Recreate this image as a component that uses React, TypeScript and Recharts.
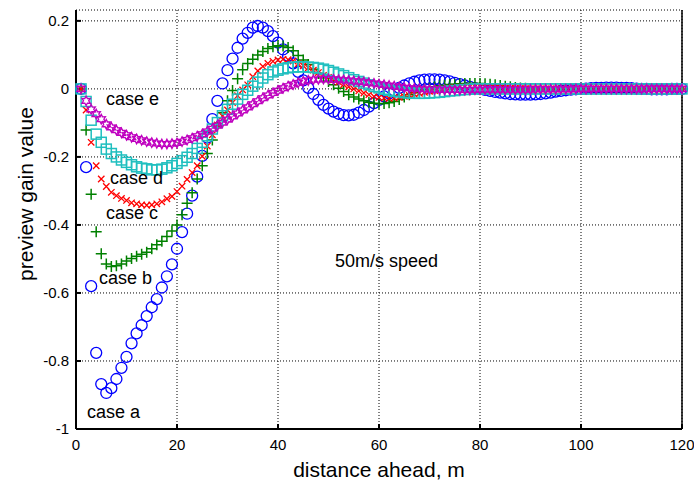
import React from 'react';
import { ScatterChart, Scatter, XAxis, YAxis, CartesianGrid } from 'recharts';

// distance ahead (m), one sample per metre
const distance = [
  1, 2, 3, 4, 5, 6, 7, 8, 9, 10, 11, 12, 13, 14, 15, 16, 17, 18, 19, 20,
  21, 22, 23, 24, 25, 26, 27, 28, 29, 30, 31, 32, 33, 34, 35, 36, 37, 38, 39, 40,
  41, 42, 43, 44, 45, 46, 47, 48, 49, 50, 51, 52, 53, 54, 55, 56, 57, 58, 59, 60,
  61, 62, 63, 64, 65, 66, 67, 68, 69, 70, 71, 72, 73, 74, 75, 76, 77, 78, 79, 80,
  81, 82, 83, 84, 85, 86, 87, 88, 89, 90, 91, 92, 93, 94, 95, 96, 97, 98, 99, 100,
  101, 102, 103, 104, 105, 106, 107, 108, 109, 110, 111, 112, 113, 114, 115, 116, 117, 118, 119, 120,
];

const caseA = [
  0, -0.23, -0.58, -0.776, -0.868, -0.894, -0.88, -0.853, -0.82, -0.788,
  -0.748, -0.719, -0.695, -0.668, -0.642, -0.618, -0.584, -0.551, -0.516, -0.47,
  -0.421, -0.367, -0.314, -0.258, -0.197, -0.143, -0.089, -0.035, 0.016, 0.055,
  0.089, 0.121, 0.148, 0.165, 0.18, 0.185, 0.18, 0.17, 0.155, 0.136,
  0.116, 0.097, 0.075, 0.05, 0.025, 0.003, -0.015, -0.032, -0.047, -0.058,
  -0.067, -0.073, -0.077, -0.078, -0.076, -0.07, -0.062, -0.052, -0.042, -0.032,
  -0.022, -0.013, -0.005, 0.003, 0.01, 0.016, 0.021, 0.025, 0.027, 0.028,
  0.028, 0.027, 0.025, 0.022, 0.018, 0.014, 0.01, 0.006, 0.002, 0,
  -0.003, -0.006, -0.009, -0.011, -0.013, -0.015, -0.016, -0.017, -0.017, -0.017,
  -0.016, -0.015, -0.013, -0.011, -0.008, -0.006, -0.004, -0.002, -0.001, 0,
  0.001, 0.002, 0.003, 0.003, 0.004, 0.004, 0.004, 0.003, 0.003, 0.002,
  0.001, 0, 0, -0.001, -0.001, -0.001, -0.001, 0, 0, 0,
];

const caseB = [
  0, -0.121, -0.31, -0.42, -0.485, -0.515, -0.522, -0.52, -0.515, -0.506,
  -0.499, -0.492, -0.486, -0.48, -0.47, -0.458, -0.448, -0.434, -0.418, -0.4,
  -0.37, -0.336, -0.305, -0.265, -0.226, -0.19, -0.15, -0.11, -0.07, -0.035,
  -0.005, 0.03, 0.056, 0.075, 0.087, 0.1, 0.11, 0.119, 0.124, 0.127,
  0.126, 0.122, 0.112, 0.098, 0.085, 0.072, 0.058, 0.045, 0.033, 0.022,
  0.012, 0.002, -0.008, -0.017, -0.024, -0.03, -0.035, -0.039, -0.042, -0.044,
  -0.043, -0.041, -0.037, -0.031, -0.024, -0.017, -0.011, -0.005, -0.001, 0.003,
  0.006, 0.009, 0.011, 0.013, 0.014, 0.015, 0.016, 0.016, 0.016, 0.016,
  0.015, 0.014, 0.012, 0.01, 0.008, 0.006, 0.004, 0.003, 0.002, 0.001,
  0, -0.001, -0.001, -0.002, -0.002, -0.002, -0.002, -0.001, -0.001, 0,
  0, 0, 0, 0, 0, 0, 0, 0, 0, 0,
  0, 0, 0, 0, 0, 0, 0, 0, 0, 0,
];

const caseC = [
  0, -0.062, -0.157, -0.226, -0.265, -0.287, -0.304, -0.314, -0.322, -0.328,
  -0.335, -0.338, -0.341, -0.342, -0.341, -0.338, -0.332, -0.323, -0.316, -0.302,
  -0.286, -0.266, -0.246, -0.226, -0.198, -0.168, -0.135, -0.106, -0.08, -0.062,
  -0.04, -0.02, -0.003, 0.012, 0.036, 0.053, 0.066, 0.075, 0.081, 0.085,
  0.087, 0.086, 0.082, 0.074, 0.068, 0.062, 0.055, 0.048, 0.04, 0.034,
  0.027, 0.02, 0.013, 0.006, 0, -0.006, -0.012, -0.017, -0.022, -0.025,
  -0.027, -0.028, -0.027, -0.025, -0.022, -0.019, -0.016, -0.013, -0.01, -0.007,
  -0.005, -0.002, 0, 0.002, 0.004, 0.005, 0.006, 0.007, 0.007, 0.007,
  0.006, 0.006, 0.005, 0.004, 0.003, 0.002, 0.002, 0.001, 0.001, 0,
  0, 0, 0, 0, 0, 0, 0, 0, 0, 0,
  0, 0, 0, 0, 0, 0, 0, 0, 0, 0,
  0, 0, 0, 0, 0, 0, 0, 0, 0, 0,
];

const caseD = [
  0, -0.037, -0.092, -0.133, -0.157, -0.177, -0.19, -0.2, -0.209, -0.216,
  -0.223, -0.229, -0.233, -0.235, -0.238, -0.238, -0.236, -0.232, -0.226, -0.219,
  -0.211, -0.201, -0.19, -0.175, -0.157, -0.138, -0.118, -0.099, -0.079, -0.06,
  -0.045, -0.03, -0.016, -0.004, 0.008, 0.02, 0.032, 0.042, 0.05, 0.055,
  0.059, 0.062, 0.064, 0.065, 0.065, 0.064, 0.063, 0.061, 0.058, 0.054,
  0.049, 0.044, 0.039, 0.033, 0.027, 0.022, 0.017, 0.012, 0.007, 0.003,
  -0.001, -0.004, -0.007, -0.009, -0.011, -0.012, -0.013, -0.013, -0.013, -0.012,
  -0.011, -0.01, -0.008, -0.006, -0.005, -0.003, -0.002, -0.001, 0, 0,
  0, 0, 0, 0, 0, 0, 0, 0, 0, 0,
  0, 0, 0, 0, 0, 0, 0, 0, 0, 0,
  0, 0, 0, 0, 0, 0, 0, 0, 0, 0,
  0, 0, 0, 0, 0, 0, 0, 0, 0, 0,
];

const caseE = [
  0, -0.035, -0.06, -0.074, -0.089, -0.104, -0.113, -0.121, -0.129, -0.136,
  -0.142, -0.147, -0.151, -0.155, -0.158, -0.16, -0.162, -0.162, -0.161, -0.159,
  -0.155, -0.15, -0.145, -0.139, -0.133, -0.125, -0.117, -0.108, -0.099, -0.09,
  -0.081, -0.072, -0.063, -0.054, -0.045, -0.036, -0.027, -0.019, -0.012, -0.005,
  0.002, 0.008, 0.013, 0.018, 0.022, 0.025, 0.027, 0.028, 0.029, 0.029,
  0.028, 0.027, 0.026, 0.025, 0.023, 0.022, 0.02, 0.018, 0.016, 0.014,
  0.012, 0.01, 0.008, 0.006, 0.004, 0.002, 0.001, 0, -0.001, -0.002,
  -0.002, -0.002, -0.003, -0.003, -0.003, -0.003, -0.003, -0.003, -0.002, -0.002,
  -0.002, -0.002, -0.002, -0.002, -0.002, -0.002, -0.002, -0.002, -0.002, -0.002,
  -0.001, -0.001, -0.001, -0.001, -0.001, -0.001, -0.001, -0.001, 0, 0,
  0, 0, 0, 0, 0, 0, 0, 0, 0, 0,
  0, 0, 0, 0, 0, 0, 0, 0, 0, 0,
];

const xTicks = [0, 20, 40, 60, 80, 100, 120];
const yTicks = [-1, -0.8, -0.6, -0.4, -0.2, 0, 0.2];

const FONT = '"Liberation Sans", Arial, sans-serif';

const toPoints = (vals: number[]) => vals.map((v, i) => ({ x: distance[i], y: v }));

// matlab style markers
const CircleMark = (p: any) => (
  <circle cx={p.cx} cy={p.cy} r={5.5} fill="none" stroke="#0000ff" strokeWidth={1.3} />
);
const PlusMark = (p: any) => (
  <path
    d={`M${p.cx - 5.5},${p.cy}H${p.cx + 5.5}M${p.cx},${p.cy - 5.5}V${p.cy + 5.5}`}
    stroke="#008000"
    strokeWidth={1.5}
    fill="none"
  />
);
const CrossMark = (p: any) => (
  <path
    d={`M${p.cx - 3.2},${p.cy - 3.2}L${p.cx + 3.2},${p.cy + 3.2}M${p.cx - 3.2},${p.cy + 3.2}L${p.cx + 3.2},${p.cy - 3.2}`}
    stroke="#ff0000"
    strokeWidth={1.3}
    fill="none"
  />
);
const SquareMark = (p: any) => (
  <rect x={p.cx - 5} y={p.cy - 5} width={10} height={10} fill="none" stroke="#1fbfbf" strokeWidth={1.5} />
);
const HexMark = (p: any) => {
  const pts: string[] = [];
  for (let k = 0; k < 12; k++) {
    const r = k % 2 === 0 ? 4.8 : 2.6;
    const a = (Math.PI / 6) * k - Math.PI / 2;
    pts.push(`${p.cx + r * Math.cos(a)},${p.cy + r * Math.sin(a)}`);
  }
  return <polygon points={pts.join(' ')} fill="none" stroke="#bf00bf" strokeWidth={1.3} />;
};

const labelStyle: React.CSSProperties = {
  position: 'absolute',
  fontFamily: FONT,
  fontSize: 18,
  lineHeight: '18px',
  color: '#000',
  whiteSpace: 'nowrap',
};

const App = () => {
  return (
    <div style={{ position: 'absolute', left: 0, top: 0, width: 694, height: 483, background: '#fff' }}>
      <ScatterChart width={694} height={483} margin={{ top: 10, right: 11, bottom: 0, left: 0 }}>
        <CartesianGrid stroke="#000" strokeDasharray="1 2" strokeWidth={1} />
        <XAxis
          type="number"
          dataKey="x"
          domain={[0, 120]}
          ticks={xTicks}
          height={54}
          stroke="#000"
          strokeWidth={2}
          tickSize={-5}
          tickMargin={15}
          tick={{ fill: '#000', fontSize: 15, fontFamily: FONT }}
        />
        <YAxis
          type="number"
          dataKey="y"
          domain={[-1, 0.232]}
          ticks={yTicks}
          allowDataOverflow
          width={76}
          stroke="#000"
          strokeWidth={2}
          tickSize={-5}
          tickMargin={12}
          tick={{ fill: '#000', fontSize: 15, fontFamily: FONT }}
        />
        <YAxis
          yAxisId="r"
          orientation="right"
          type="number"
          domain={[-1, 0.232]}
          ticks={yTicks}
          width={1}
          stroke="#000"
          strokeWidth={1.5}
          tickSize={-5}
          tick={false}
        />
        <Scatter data={toPoints(caseA)} shape={CircleMark} isAnimationActive={false} />
        <Scatter data={toPoints(caseB)} shape={PlusMark} isAnimationActive={false} />
        <Scatter data={toPoints(caseC)} shape={CrossMark} isAnimationActive={false} />
        <Scatter data={toPoints(caseD)} shape={SquareMark} isAnimationActive={false} />
        <Scatter data={toPoints(caseE)} shape={HexMark} isAnimationActive={false} />
      </ScatterChart>

      <div style={{ ...labelStyle, left: 106, top: 90 }}>case e</div>
      <div style={{ ...labelStyle, left: 110, top: 169 }}>case d</div>
      <div style={{ ...labelStyle, left: 106, top: 204 }}>case c</div>
      <div style={{ ...labelStyle, left: 99, top: 269 }}>case b</div>
      <div style={{ ...labelStyle, left: 87, top: 403 }}>case a</div>
      <div style={{ ...labelStyle, left: 335, top: 252 }}>50m/s speed</div>

      <div
        style={{
          ...labelStyle,
          fontSize: 21,
          lineHeight: '21px',
          left: 379,
          top: 459,
          transform: 'translateX(-50%)',
        }}
      >
        distance ahead, m
      </div>
      <div
        style={{
          ...labelStyle,
          fontSize: 21,
          lineHeight: '21px',
          left: 25,
          top: 194,
          transform: 'translate(-50%, -50%) rotate(-90deg)',
        }}
      >
        preview gain value
      </div>
    </div>
  );
};

export default App;
